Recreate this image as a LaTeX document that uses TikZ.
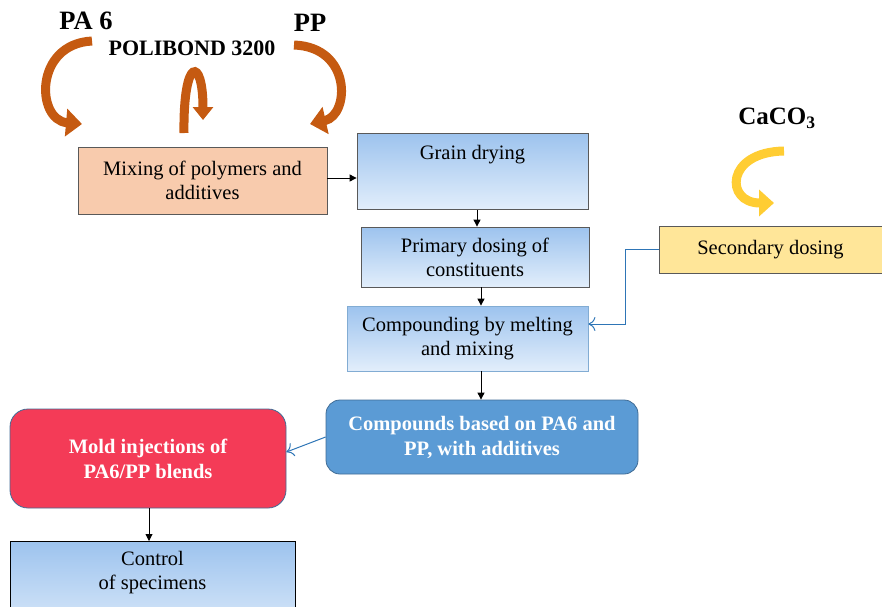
\documentclass[tikz,border=0pt]{standalone}
\usepackage{fontspec}
\setmainfont{Liberation Serif}
\usetikzlibrary{arrows.meta}

\definecolor{peach}{HTML}{F8CBAD}
\definecolor{gradtop}{HTML}{9DC3EE}
\definecolor{gradbot}{HTML}{E2EEFB}
\definecolor{dosing}{HTML}{FFE699}
\definecolor{compblue}{HTML}{5B9BD5}
\definecolor{moldred}{HTML}{F43B57}
\definecolor{rust}{HTML}{C55A11}
\definecolor{amber}{HTML}{FFC000}
\definecolor{linkblue}{HTML}{2E75B6}

\tikzset{
  box/.style={draw=black!65, line width=0.8pt, align=center, inner sep=0pt,
    font=\fontsize{20.5}{24}\selectfont},
  gradbox/.style={box, top color=gradtop, bottom color=gradbot},
  roundbox/.style={box, rounded corners=14pt, text=white,
    font=\fontsize{20.5}{25}\selectfont\bfseries},
  flow/.style={-{Triangle[length=7pt,width=7pt]}, line width=0.9pt},
  feed/.style={-{To[length=7pt,width=14pt]}, line width=1pt, draw=linkblue},
  bigarrow/.style={line width=9pt, draw=rust,
    -{Triangle[length=16pt,width=27pt]}},
  title/.style={font=\fontsize{26.5}{30}\selectfont\bfseries}
}

\begin{document}
\begin{tikzpicture}[x=1pt,y=-1pt]
    \useasboundingbox (0,0) rectangle (882,606);

    % boxes
    \node[box, fill=peach, minimum width=249pt, minimum height=67pt] (mix) at (202.5,180.5)
      {Mixing of polymers and\\additives};
    \node[gradbox, minimum width=231pt, text depth=38pt, anchor=north, inner ysep=12pt] (dry) at (472.5,133)
      {Grain drying};
    \node[gradbox, minimum width=228pt, minimum height=60pt] (prim) at (475,257)
      {Primary dosing of\\constituents};
    \node[gradbox, draw=linkblue!60, minimum width=241pt, minimum height=65pt] (melt) at (467.5,338.5)
      {Compounding by melting\\and mixing};
    \node[box, fill=dosing, minimum width=223pt, minimum height=47pt] (sec) at (770.5,249.5)
      {Secondary dosing};
    \node[roundbox, fill=compblue, draw=compblue!70!black, minimum width=312pt, minimum height=74pt] (comp) at (482,437)
      {Compounds based on PA6 and\\PP, with additives};
    \node[roundbox, fill=moldred, draw=compblue!70!black, rounded corners=18pt, minimum width=276pt, minimum height=99pt] (mold) at (148,458.5)
      {Mold injections of\\PA6/PP blends};
    \node[gradbox, draw=black, minimum width=285pt, text depth=44pt, anchor=north, inner ysep=10pt] (ctrl) at (152.5,541)
      {Control\\of specimens};

    % inputs
    \node[title] (pa) at (86,21) {PA 6};
    \node[title, font=\fontsize{22}{26}\selectfont\bfseries] (pol) at (192,48) {POLIBOND 3200};
    \node[title] (pp) at (310,23) {PP};
    \node[title, font=\fontsize{25}{29}\selectfont\bfseries] (caco) at (777,118) {CaCO\textsubscript{3}};

    \draw[bigarrow] (92,41) .. controls (34,44) and (36,120) .. (82,124);
    \draw[bigarrow, -{Triangle[length=13pt,width=20pt]}] (184,133) .. controls (183,56) and (203,56) .. (203,120);
    \draw[bigarrow] (294,45) .. controls (352,47) and (350,115) .. (310,124);
    \draw[line width=9pt, draw=amber!80, -{Triangle[length=15pt,width=26pt]}]
      (784,151) .. controls (725,152) and (725,203) .. (774,203);

    % connectors
    \draw[flow] (mix.east |- 0,178) -- (dry.west |- 0,178);
    \draw[flow] (dry.south -| 477,0) -- (prim.north -| 477,0);
    \draw[flow] (prim.south -| 481,0) -- (melt.north -| 481,0);
    \draw[flow] (melt.south -| 481,0) -- (comp.north -| 481,0);
    \draw[feed] (sec.west) -| (625,324) -- (melt.east |- 0,324);
    \draw[feed] (comp.west) -- (mold.east |- 0,452);
    \draw[flow] (mold.south -| 149,0) -- (ctrl.north -| 149,0);
\end{tikzpicture}
\end{document}
